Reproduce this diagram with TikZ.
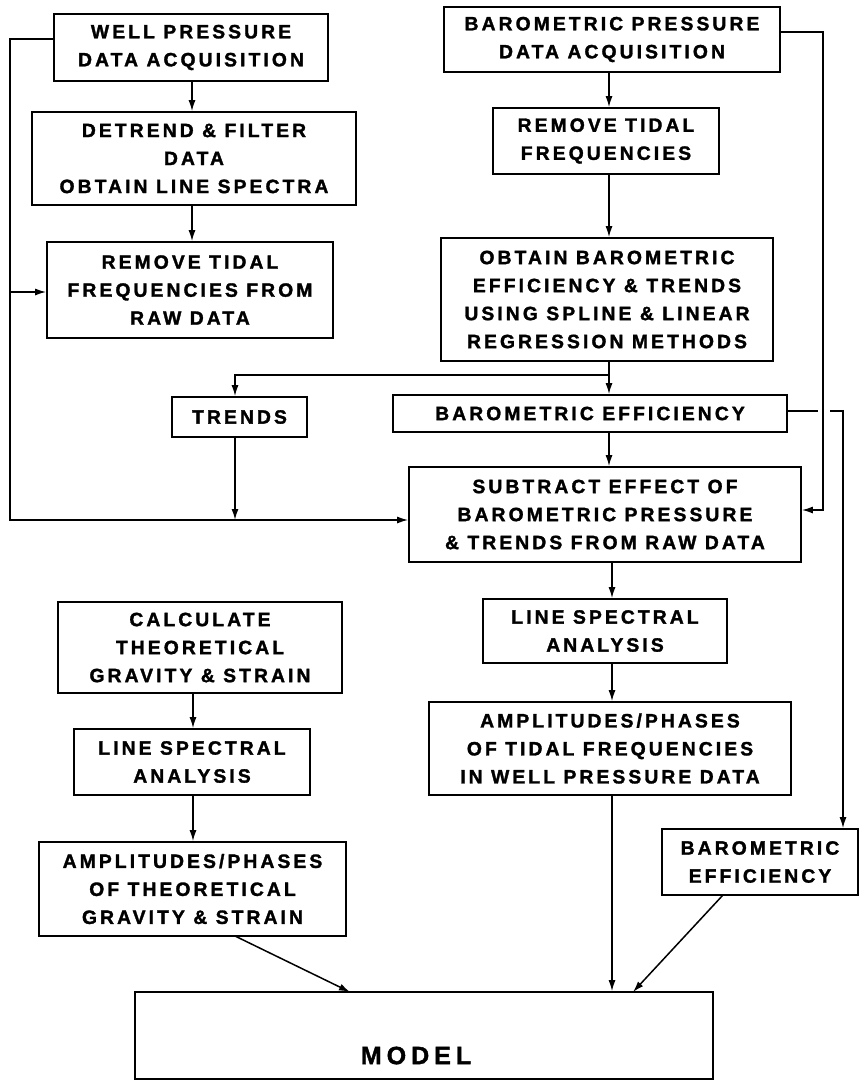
\documentclass[tikz,border=0pt]{standalone}
\usepackage{fontspec}
\setmainfont{Liberation Sans}[BoldFont={* Bold}]
\newfontfamily\boxfamily{Liberation Sans Bold}[LetterSpace=16,FakeBold=1.6]
\newfontfamily\modelfamily{Liberation Sans Bold}[LetterSpace=20,FakeBold=1.6]
\usetikzlibrary{arrows.meta}
\tikzset{
  box/.style={draw, line width=1.7pt, align=center, inner sep=0pt,
    font={\boxfamily\fontsize{19.3}{28}\selectfont}},
  arr/.style={line width=1.5pt, -{Latex[length=11pt,width=7pt]}},
  ln/.style={line width=1.5pt},
}
\newcommand\bx[6]{\node[box, minimum width={#4-#2}, minimum height={#5-#3}] (#1) at ({(#2+#4)/2},{(#3+#5)/2}) {#6};}
\begin{document}
\begin{tikzpicture}[x=1pt,y=-1pt]
\useasboundingbox (0,0) rectangle (860,1082);
\bx{wp}{54}{14}{328}{81}{WELL PRESSURE\\DATA ACQUISITION}
\bx{det}{32}{112}{356}{205}{DETREND \& FILTER\\DATA\\OBTAIN LINE SPECTRA}
\bx{rtr}{47}{242}{333}{338}{REMOVE TIDAL\\FREQUENCIES FROM\\RAW DATA}
\bx{bp}{444}{7}{780}{72}{BAROMETRIC PRESSURE\\DATA ACQUISITION}
\bx{rtf}{493}{108}{719}{174}{REMOVE TIDAL\\FREQUENCIES}
\bx{obt}{441}{238}{773}{361}{OBTAIN BAROMETRIC\\EFFICIENCY \& TRENDS\\USING SPLINE \& LINEAR\\REGRESSION METHODS}
\bx{tr}{172}{397}{307}{437}{TRENDS}
\bx{be}{393}{395}{787}{432}{BAROMETRIC EFFICIENCY}
\bx{sub}{409}{467}{801}{562}{SUBTRACT EFFECT OF\\BAROMETRIC PRESSURE\\\& TRENDS FROM RAW DATA}
\bx{lsr}{483}{599}{727}{663}{LINE SPECTRAL\\ANALYSIS}
\bx{calc}{58}{602}{342}{693}{CALCULATE\\THEORETICAL\\GRAVITY \& STRAIN}
\bx{lsl}{74}{729}{310}{795}{LINE SPECTRAL\\ANALYSIS}
\bx{amt}{39}{842}{346}{936}{AMPLITUDES/PHASES\\OF THEORETICAL\\GRAVITY \& STRAIN}
\bx{amw}{429}{702}{791}{795}{AMPLITUDES/PHASES\\OF TIDAL FREQUENCIES\\IN WELL PRESSURE DATA}
\bx{be2}{662}{829}{858}{895}{BAROMETRIC\\EFFICIENCY}
\node[draw, line width=1.7pt, minimum width=578pt, minimum height=87pt,
  label={[font={\modelfamily\fontsize{25}{28}\selectfont}, yshift=-20pt, xshift=-8pt]center:MODEL}]
  (model) at (424,1035.5) {};
% coordinates
\coordinate (cL) at (192,0);
\coordinate (cR) at (609,0);
\coordinate (cM) at (612,0);
\coordinate (cC) at (193,0);
\coordinate (cT) at (235,0);
\coordinate (lt) at (10,39);
\coordinate (lb) at (10,520);
\coordinate (lm) at (10,292);
\coordinate (tj) at (235,520);
\coordinate (sp) at (609,375);
\coordinate (st) at (235,375);
\coordinate (rt) at (823,32);
\coordinate (rb) at (823,510);
\coordinate (ga) at (818,411);
\coordinate (gb) at (830,411);
\coordinate (gc) at (843,411);
% left column
\draw[arr] (wp.south -| cL) -- (det.north -| cL);
\draw[arr] (det.south -| cL) -- (rtr.north -| cL);
\draw[arr] (wp.west |- lt) -- (lt) -- (lb) -- (sub.west |- lb);
\draw[arr] (lm) -- (rtr.west |- lm);
\draw[arr] (tr.south -| cT) -- (tj);
% right column
\draw[arr] (bp.south -| cR) -- (rtf.north -| cR);
\draw[arr] (rtf.south -| cR) -- (obt.north -| cR);
\draw[arr] (obt.south -| cR) -- (be.north -| cR);
\draw[arr] (sp) -- (st) -- (tr.north -| st);
\draw[arr] (be.south -| cR) -- (sub.north -| cR);
\draw[arr] (bp.east |- rt) -- (rt) -- (rb) -- (sub.east |- rb);
\draw[ln] (be.east |- ga) -- (ga);
\draw[arr] (gb) -- (gc) -- (be2.north -| gc);
\draw[arr] (sub.south -| cM) -- (lsr.north -| cM);
\draw[arr] (lsr.south -| cM) -- (amw.north -| cM);
\draw[arr] (amw.south -| cM) -- (model.north -| cM);
% lower left
\draw[arr] (calc.south -| cC) -- (lsl.north -| cC);
\draw[arr] (lsl.south -| cC) -- (amt.north -| cC);
\coordinate (a1) at (235,936);
\coordinate (a2) at (350,992);
\draw[arr] (a1) -- (a2);
\coordinate (b1) at (723,895);
\coordinate (b2) at (633,992);
\draw[arr] (b1) -- (b2);
\end{tikzpicture}
\end{document}
